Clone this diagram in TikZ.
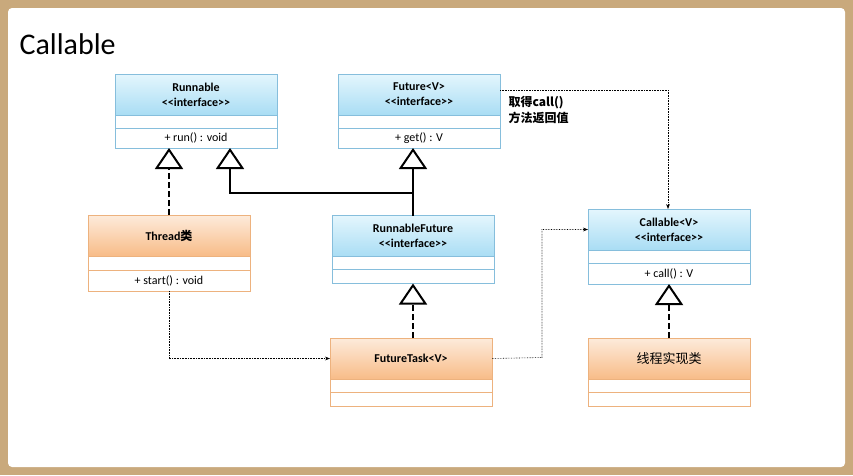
\documentclass[tikz,border=0pt]{standalone}
\usepackage{fontspec}
\setmainfont{Carlito}
\newfontfamily\cjk{Noto Sans CJK SC}
\usetikzlibrary{positioning, arrows.meta}

\definecolor{frame}{HTML}{C9A97C}
\definecolor{ifline}{HTML}{86BEDC}
\definecolor{ifhi}{HTML}{E4F6FD}
\definecolor{iflo}{HTML}{A9DDF4}
\definecolor{clline}{HTML}{EDB27E}
\definecolor{clhi}{HTML}{FDEBDB}
\definecolor{cllo}{HTML}{F8BC88}

\tikzset{
  hdr/.style={draw=#1line, top color=#1hi, bottom color=#1lo, minimum width=162pt,
    minimum height=41pt, outer sep=0pt, align=center, font=\fontsize{12}{15}\selectfont\bfseries},
  comp/.style={draw=#1line, fill=white, minimum width=162pt, outer sep=0pt,
    font=\fontsize{12}{13}\selectfont, inner sep=0pt},
  realize/.style={line width=2pt, dash pattern=on 6pt off 3pt, -{Triangle[open, length=21pt, width=28pt]}},
  extend/.style={line width=2pt, -{Triangle[open, length=21pt, width=28pt]}},
  dep/.style={densely dotted, semithick, -{Stealth[length=5pt]}}
}

\begin{document}
\begin{tikzpicture}[x=1pt, y=-1pt]
        \fill[frame] (0,0) rectangle (853,475);
        \fill[white, rounded corners=4pt] (8,8) rectangle (845,467);
        \node[anchor=west, font=\fontsize{30}{34}\selectfont] (title) at (16,44) {Callable};

        % Runnable
        \node[hdr=if] (rh) at (196,94.5) {Runnable\\<{}<interface>{}>};
        \node[comp=if, minimum height=13pt, below=0pt of rh] (rb) {};
        \node[comp=if, minimum height=20pt, below=0pt of rb] (rm) {+ run() : void};

        % Future
        \node[hdr=if] (fh) at (419,94.5) {Future<V>\\<{}<interface>{}>};
        \node[comp=if, minimum height=13pt, below=0pt of fh] (fb) {};
        \node[comp=if, minimum height=20pt, below=0pt of fb] (fm) {+ get() : V};

        % Thread
        \node[hdr=cl] (th) at (169,235.5) {Thread{\cjk 类}};
        \node[comp=cl, minimum height=14pt, below=0pt of th] (tb) {};
        \node[comp=cl, minimum height=21pt, below=0pt of tb] (tm) {+ start() : void};

        % RunnableFuture
        \node[hdr=if] (rfh) at (413,236) {RunnableFuture\\<{}<interface>{}>};
        \node[comp=if, minimum height=13pt, below=0pt of rfh] (rfb) {};
        \node[comp=if, minimum height=14pt, below=0pt of rfb] (rfm) {};

        % FutureTask
        \node[hdr=cl] (ft) at (411,358.5) {FutureTask<V>};
        \node[comp=cl, minimum height=13pt, below=0pt of ft] (ftb) {};
        \node[comp=cl, minimum height=14pt, below=0pt of ftb] (ftm) {};

        % Callable
        \node[hdr=if] (ch) at (669,229.5) {Callable<V>\\<{}<interface>{}>};
        \node[comp=if, minimum height=13pt, below=0pt of ch] (cb) {};
        \node[comp=if, minimum height=21pt, below=0pt of cb] (cm) {+ call() : V};

        % impl
        \node[hdr=cl, font=\fontsize{13}{15}\cjk] (im) at (669,358.5) {线程实现类};
        \node[comp=cl, minimum height=13pt, below=0pt of im] (imb) {};
        \node[comp=cl, minimum height=14pt, below=0pt of imb] (imm) {};

        \node[anchor=north west, align=left, font=\fontsize{12}{16}\cjk\bfseries] (note) at (505,93) {取得call()\\方法返回值};

        \coordinate (jn) at (413,193);
        \coordinate (jr) at (230,193);
        \draw[realize] (th.north) -- (th.north |- rm.south);
        \draw[extend] (rfh.north) -- (jn) -- (jr) -- (jr |- rm.south);
        \draw[extend] (jn) -- (jn |- fm.south);
        \draw[realize] (ft.north -| rfm.south) -- (rfm.south);
        \draw[realize] (im.north) -- (cm.south);

        \coordinate (d1) at (542,357.5);
        \coordinate (d2) at (668,90);
        \draw[dep] (tm.south) |- (ft.west);
        \draw[dep] (ft.east) -- (d1) |- (ch.west);
        \draw[dep] (fh.east |- d2) -- (d2) -- (ch.north -| d2);
\end{tikzpicture}
\end{document}
